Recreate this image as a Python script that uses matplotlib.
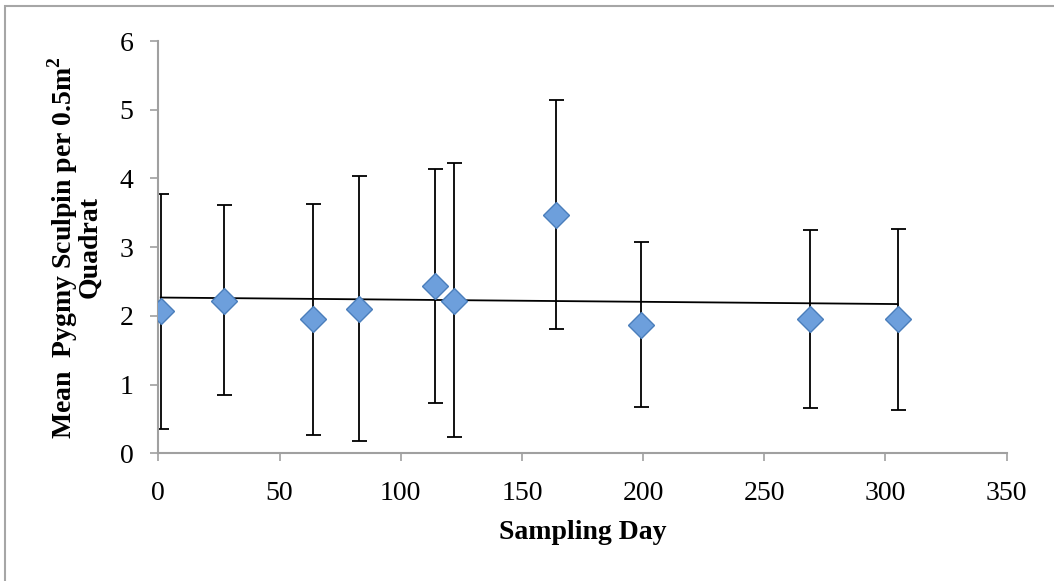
import matplotlib
matplotlib.use("Agg")
import matplotlib.pyplot as plt
from matplotlib.patches import Rectangle
import numpy as np

# sampling days and mean counts
days = [1, 27, 64, 83, 114, 122, 164, 199, 269, 305]
means = [2.07, 2.22, 1.96, 2.10, 2.44, 2.22, 3.47, 1.87, 1.95, 1.95]
err_top = [3.78, 3.61, 3.63, 4.04, 4.14, 4.23, 5.14, 3.08, 3.25, 3.27]
err_bottom = [0.35, 0.85, 0.27, 0.18, 0.73, 0.23, 1.81, 0.67, 0.66, 0.63]

x_ticks = [0, 50, 100, 150, 200, 250, 300, 350]
y_ticks = [0, 1, 2, 3, 4, 5, 6]

SERIF = ["Liberation Serif", "DejaVu Serif"]
GRAY = "#a0a0a0"
MARKER_FACE = "#6d9fdc"
MARKER_EDGE = "#4a7ebb"

plt.rcParams["font.family"] = SERIF

fig = plt.figure(figsize=(10.54, 5.81), dpi=100)
ax = fig.add_axes([0.1502, 0.2198, 0.8049, 0.7096])

# light gray frame around the chart area (right/bottom run off the image)
fig.patches.append(Rectangle((5 / 1054, -0.05), 1.1, 1 - 6 / 581 + 0.05,
                             transform=fig.transFigure, fill=False,
                             edgecolor="#a6a6a6", lw=1.5))

x = np.array(days, dtype=float)
y = np.array(means)
lo = y - np.array(err_bottom)
hi = np.array(err_top) - y

ax.errorbar(x, y, yerr=[lo, hi], fmt="none", ecolor="black",
            elinewidth=1.3, capsize=5.4, capthick=1.3, zorder=2)

# linear trendline over the sampled range
slope, intercept = np.polyfit(x, y, 1)
xt = np.array([x.min(), x.max()])
ax.plot(xt, slope * xt + intercept, color="black", lw=1.3, zorder=3)

ax.plot(x, y, ls="none", marker="D", ms=13, mfc=MARKER_FACE,
        mec=MARKER_EDGE, mew=1.0, zorder=4)

ax.set_xlim(0, 350)
ax.set_ylim(0, 6)
ax.set_xticks(x_ticks)
ax.set_yticks(y_ticks)

for s in ["top", "right"]:
    ax.spines[s].set_visible(False)
for s in ["left", "bottom"]:
    ax.spines[s].set_color(GRAY)
    ax.spines[s].set_linewidth(1.5)

ax.tick_params(axis="both", colors=GRAY, labelcolor="black", labelsize=20,
               length=6, width=1.2, direction="out")
ax.tick_params(axis="x", pad=14)
ax.tick_params(axis="y", pad=12)

ax.set_xlabel("Sampling Day", fontsize=20, fontweight="bold", labelpad=10)
ax.set_ylabel("Mean  Pygmy Sculpin per 0.5m$^\\mathregular{2}$\nQuadrat",
              fontsize=20, fontweight="bold", labelpad=12, linespacing=0.9)

fig.savefig("out.png", dpi=100, facecolor="white")
